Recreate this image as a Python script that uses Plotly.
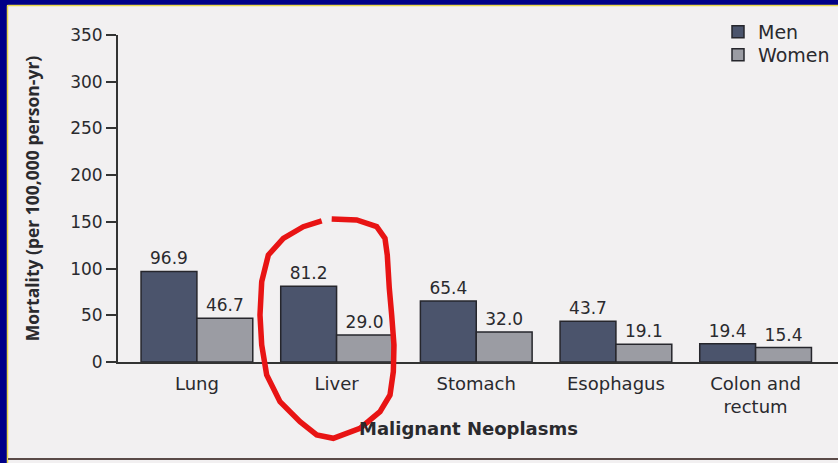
import plotly.graph_objects as go

categories = ["Lung", "Liver", "Stomach", "Esophagus", "Colon and<br>rectum"]
men = [96.9, 81.2, 65.4, 43.7, 19.4]
women = [46.7, 29.0, 32.0, 19.1, 15.4]
y_ticks = [0, 50, 100, 150, 200, 250, 300, 350]

W, H = 838, 463
L, R, T, B = 118, 0, 35, 101
pw, ph = W - L - R, H - T - B

def px(x):
    return (x - L) / pw

def py(y):
    return (H - B - y) / ph

font = "DejaVu Sans, sans-serif"
bold = "Open Sans, DejaVu Sans, sans-serif"
txt = "#2a2a2e"

fig = go.Figure()
fig.add_trace(go.Bar(name="Men", x=categories, y=men, legend="legend",
                     marker=dict(color="#4b546c", line=dict(color="#26262c", width=1.5)),
                     text=[f"{v:.1f}" for v in men], textposition="outside", cliponaxis=False,
                     textfont=dict(size=17, color=txt, family=font)))
fig.add_trace(go.Bar(name="Women", x=categories, y=women, legend="legend2",
                     marker=dict(color="#9b9ca3", line=dict(color="#26262c", width=1.5)),
                     text=[f"{v:.1f}" for v in women], textposition="outside", cliponaxis=False,
                     textfont=dict(size=17, color=txt, family=font)))

# red hand-drawn ring around Liver (pixel -> paper coords)
ring = [(331.7, 219), (356.7, 220), (376.7, 226.7), (385, 238.3), (387.3, 255), (389.3, 288.3), (391.7, 315),
        (394, 345), (393.3, 371.7), (390, 395), (380, 411.7), (360, 428.3), (333.3, 438.3), (316.7, 435),
        (300, 421.7), (280, 401.7), (266.7, 375), (261.7, 345), (260, 315), (261.7, 281.7), (268.3, 255),
        (283.3, 238.3), (303.3, 226.7), (321.7, 221)]
path = "M " + " L ".join(f"{px(x):.4f},{py(y):.4f}" for x, y in ring)

legend_common = dict(xanchor="left", yanchor="middle", bgcolor="rgba(0,0,0,0)",
                     font=dict(size=19, color=txt, family=font), itemwidth=30)

fig.update_layout(
    width=W, height=H,
    margin=dict(l=L, r=R, t=T, b=B, autoexpand=False),
    paper_bgcolor="#f2f0f1", plot_bgcolor="rgba(0,0,0,0)",
    barmode="group", bargap=0.2, bargroupgap=0,
    font=dict(family=font, color=txt, size=17),
    showlegend=True,
    legend=dict(x=px(718), y=py(32), **legend_common),
    legend2=dict(x=px(718), y=py(55), **legend_common),
    xaxis=dict(range=[-0.565, 4.59], showline=True, linecolor="#333", linewidth=2, showgrid=False,
               ticks="outside", ticklen=4, tickcolor="rgba(0,0,0,0)", tickfont=dict(size=18, color=txt)),
    yaxis=dict(range=[0, 350], tickvals=y_ticks, showline=True, linecolor="#333", linewidth=2, showgrid=False,
               zeroline=False, ticks="outside", ticklen=10, tickwidth=1.5, tickcolor="#333",
               tickfont=dict(size=17, color=txt),
               title=dict(text="<b>Mortality (per 100,000 person-yr)</b>", font=dict(size=17.5, color=txt, family=bold),
                          standoff=26)),
    annotations=[dict(text="<b>Malignant Neoplasms</b>", x=px(468), y=py(428), xref="paper", yref="paper",
                      xanchor="center", yanchor="middle",
                      showarrow=False, font=dict(size=18, color=txt, family=font))],
    shapes=[
        dict(type="rect", xref="paper", yref="paper", x0=px(-2), x1=px(W + 2), y0=py(5), y1=py(-2),
             fillcolor="#000088", line=dict(width=0), layer="above"),
        dict(type="rect", xref="paper", yref="paper", x0=px(-2), x1=px(7), y0=py(H + 2), y1=py(-2),
             fillcolor="#000088", line=dict(width=0), layer="above"),
        dict(type="line", xref="paper", yref="paper", x0=px(7.5), x1=px(W + 2), y0=py(5.5), y1=py(5.5),
             line=dict(color="#e8d84a", width=1.5), layer="above"),
        dict(type="line", xref="paper", yref="paper", x0=px(7.5), x1=px(7.5), y0=py(H + 2), y1=py(5.5),
             line=dict(color="#e8d84a", width=1.5), layer="above"),
        dict(type="line", xref="paper", yref="paper", x0=px(8), x1=px(W + 2), y0=py(459), y1=py(459),
             line=dict(color="#5a4a48", width=2), layer="above"),
        dict(type="path", xref="paper", yref="paper", path=path, line=dict(color="#e81414", width=5.5), layer="above"),
    ],
)

fig.write_html("out.html", config={"displayModeBar": False},
               post_script="document.body.style.margin='0';document.body.style.overflow='hidden';")
